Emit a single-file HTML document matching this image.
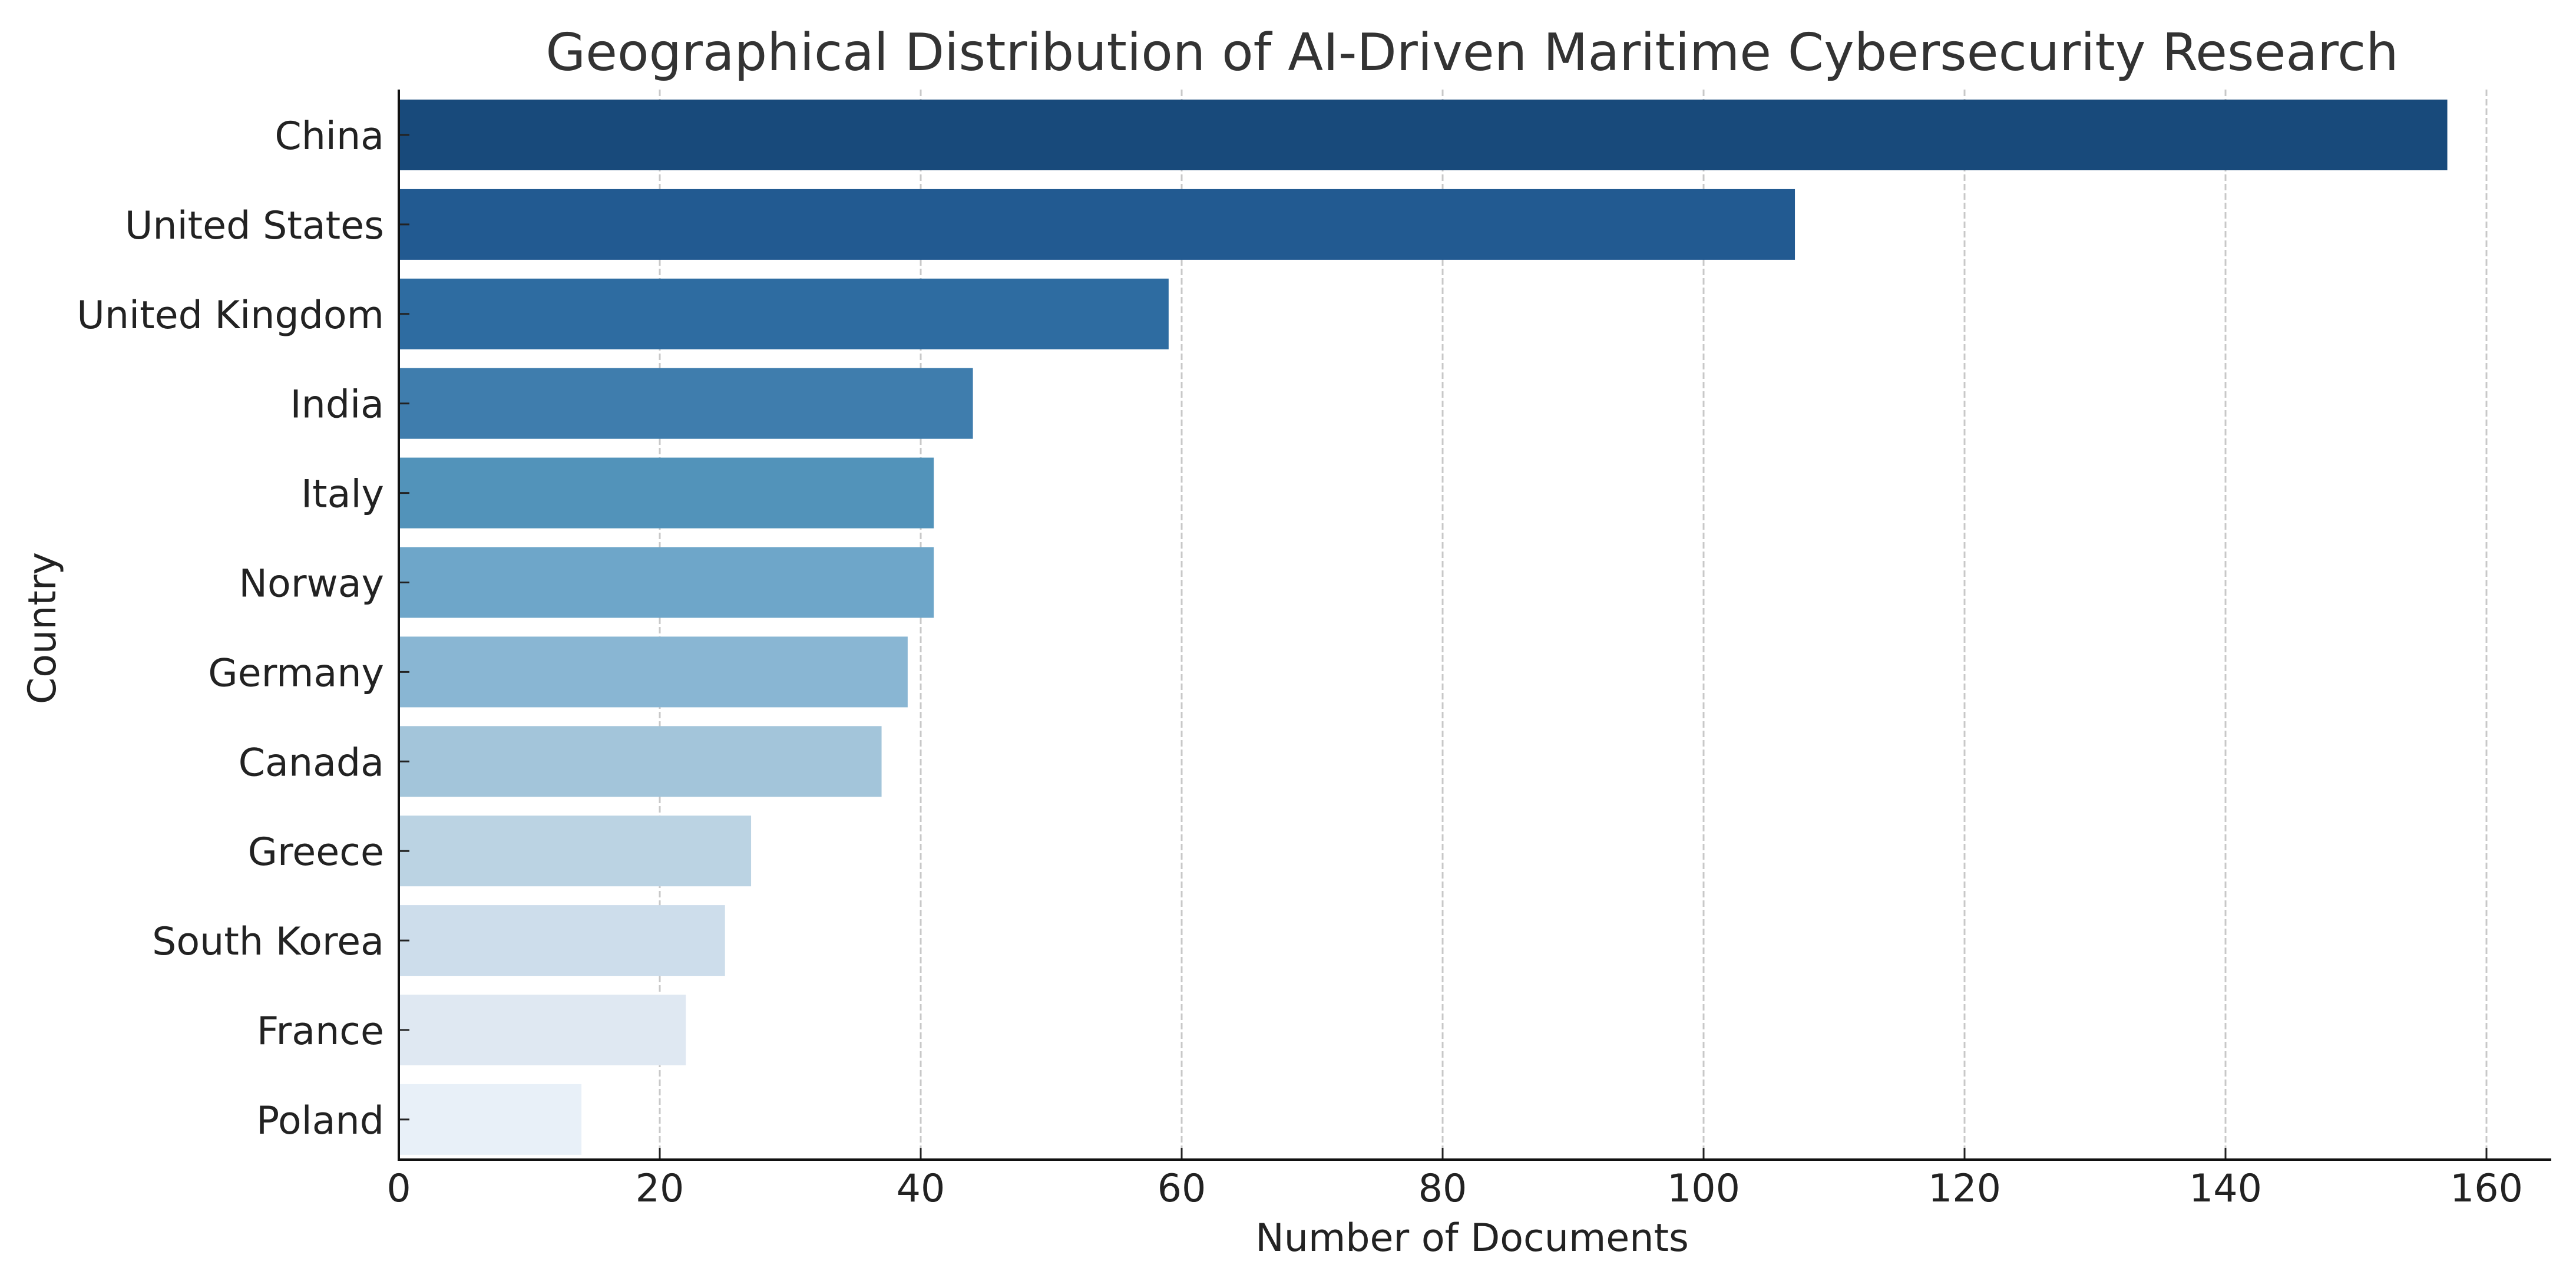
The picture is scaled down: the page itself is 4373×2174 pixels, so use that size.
<!DOCTYPE html>
<html><head><meta charset="utf-8"><style>
html,body{margin:0;padding:0;background:#fff;}
svg{display:block;font-family:"DejaVu Sans","Liberation Sans",sans-serif;}
</style></head><body>
<svg id="chart" width="4373" height="2174" viewBox="0 0 4373 2174" xmlns="http://www.w3.org/2000/svg">
<rect width="4373" height="2174" fill="#fff"/>
<text x="2499" y="119" text-anchor="middle" font-size="87.5" fill="#333">Geographical Distribution of AI-Driven Maritime Cybersecurity Research</text>
<g id="grid"></g>
<g id="bars"></g>
<g id="axes"></g>
<text x="2499" y="2123" text-anchor="middle" font-size="65" fill="#222">Number of Documents</text>
<text x="0" y="0" transform="translate(94,1066) rotate(-90)" text-anchor="middle" font-size="65" fill="#222">Country</text>
</svg>
<script>
const categories = ["China","United States","United Kingdom","India","Italy","Norway","Germany","Canada","Greece","South Korea","France","Poland"];
const values = [157,107,59,44,41,41,39,37,27,25,22,14];
const colors = ["#184a7b","#225a91","#2e6ca1","#3f7dad","#5293ba","#6ea6c9","#89b6d3","#a3c5da","#bbd3e3","#cdddeb","#dfe8f2","#e8f0f8"];
const xTicks = [0,20,40,60,80,100,120,140,160];

const NS = "http://www.w3.org/2000/svg";
const X0 = 677, PXU = 22.15, AXIS_Y = 1968, AXIS_TOP = 152, AXIS_RIGHT = 4331;
const Y_FIRST = 229, PITCH = 151.9, BAR_H = 120;
function xs(v){ return X0 + v * PXU; }
function ys(i){ return Y_FIRST + i * PITCH; }
function mk(tag, attrs, parent){
  const e = document.createElementNS(NS, tag);
  for (const k in attrs) e.setAttribute(k, attrs[k]);
  parent.appendChild(e);
  return e;
}
const grid = document.getElementById('grid');
const bars = document.getElementById('bars');
const axes = document.getElementById('axes');

xTicks.forEach(t => {
  if (t === 0) return;
  const g = mk('line', {x1: xs(t), x2: xs(t), y1: AXIS_TOP, y2: AXIS_Y, stroke: '#c8c8c8', 'stroke-width': 3, 'stroke-dasharray': '11 5'}, grid);
  
  
});

categories.forEach((c, i) => {
  const cy = ys(i);
  const r = mk('rect', {x: X0, y: cy - BAR_H/2, width: xs(values[i]) - X0, height: BAR_H, fill: colors[i]}, bars);
  
  
  const tk = mk('line', {x1: X0, x2: X0 + 18, y1: cy, y2: cy, stroke: '#222', 'stroke-width': 3}, axes);
  
  
  const lb = mk('text', {x: 652, y: cy + 24, 'text-anchor': 'end', 'font-size': 65, fill: '#222'}, axes);
  lb.textContent = c;
  
  
});

xTicks.forEach(t => {
  const tk = mk('line', {x1: xs(t), x2: xs(t), y1: AXIS_Y - 20, y2: AXIS_Y, stroke: '#222', 'stroke-width': 3}, axes);
  
  
  const lb = mk('text', {x: xs(t), y: AXIS_Y + 71, 'text-anchor': 'middle', 'font-size': 65, fill: '#222'}, axes);
  lb.textContent = t;
  
  
});

const ls = mk('line', {x1: X0, x2: X0, y1: AXIS_TOP, y2: AXIS_Y + 2, stroke: '#111', 'stroke-width': 4}, axes);


const bs = mk('line', {x1: X0 - 2, x2: AXIS_RIGHT, y1: AXIS_Y, y2: AXIS_Y, stroke: '#111', 'stroke-width': 4}, axes);


</script>
</body></html>
